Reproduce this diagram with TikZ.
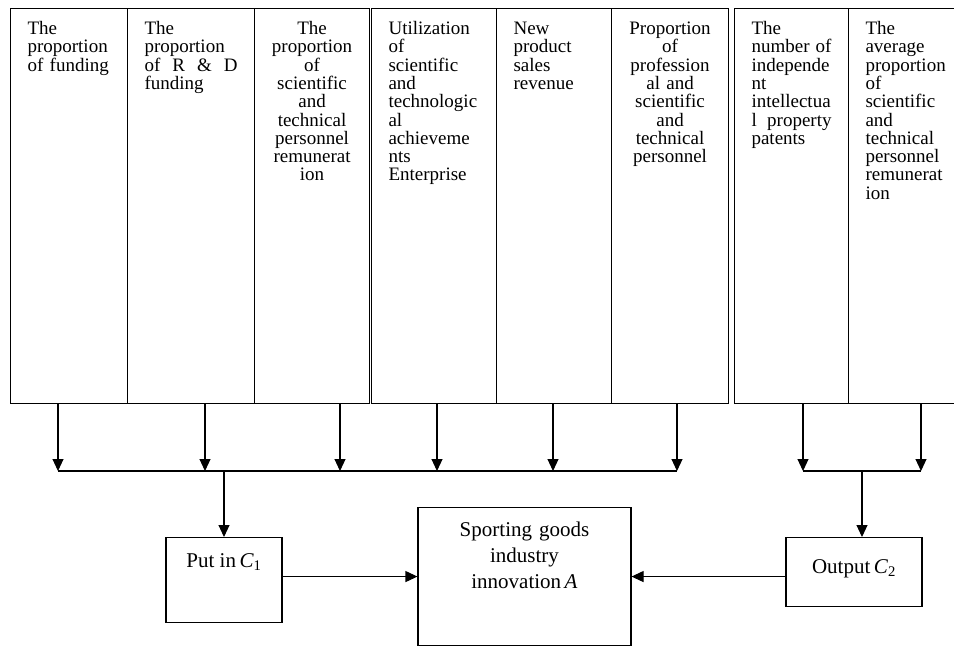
\documentclass[tikz,border=0pt]{standalone}
\usepackage{fontspec}
\setmainfont{Liberation Serif}
\usetikzlibrary{arrows.meta}
\begin{document}
\begin{tikzpicture}[x=1pt,y=-1pt,
  col/.style={draw, line width=1.1pt, anchor=north west, inner xsep=17pt, inner ysep=0pt,
    text height=26pt, text depth=369pt, font=\fontsize{19}{18.3}\selectfont},
  blk/.style={draw, line width=1.1pt, anchor=north, inner ysep=0pt, font=\fontsize{21}{26}\selectfont},
  arr/.style={line width=1.1pt, -{Triangle[length=12pt,width=11pt]}},
  bus/.style={line width=1.1pt}]
\useasboundingbox (0,0) rectangle (954,646);
\node[col, text width=83pt, align=left] (c1) at (10,8) {The\\proportion\\of~funding};
\node[col, text width=93pt, align=left] (c2) at (127,8) {The\\proportion\\of\hfill R\hfill\&\hfill D\\funding};
\node[col, text width=81pt, align=center] (c3) at (254,8) {The\\proportion\\of\\scientific\\and\\technical\\personnel\\remunerat\\ion};
\node[col, text width=91pt, align=left] (c4) at (371,8) {Utilization\\of\\scientific\\and\\technologic\\al\\achieveme\\nts\\Enterprise};
\node[col, text width=81pt, align=left] (c5) at (496,8) {New\\product\\sales\\revenue};
\node[col, text width=83pt, align=center] (c6) at (611,8) {Proportion\\of\\profession\\al~and\\scientific\\and\\technical\\personnel};
\node[col, text width=80pt, align=left] (c7) at (734,8) {The\\number\hfill of\\independe\\nt\\intellectua\\l\hfill property\\patents};
\node[col, text width=81pt, align=left] (c8) at (848,8) {The\\average\\proportion\\of\\scientific\\and\\technical\\personnel\\remunerat\\ion};
\node[blk, minimum width=116pt, text height=30pt, text depth=55pt] (put) at (224,537) {Put in\,\textit{C}\textsubscript{1}};
\node[blk, minimum width=136pt, text height=36pt, text depth=33pt] (out) at (854,537) {Output\,\textit{C}\textsubscript{2}};
\node[blk, inner xsep=0pt, text width=213pt, align=center, text height=29pt, text depth=109pt] (inno) at (524.5,507) {Sporting goods\\industry\\innovation\,\textit{A}};
\coordinate (a1) at (58,471);
\coordinate (a2) at (205,471);
\coordinate (a3) at (340,471);
\coordinate (a4) at (437,471);
\coordinate (a5) at (553,471);
\coordinate (a6) at (677,471);
\coordinate (a7) at (803,471);
\coordinate (a8) at (921,471);
\coordinate (m1) at (224,471);
\coordinate (m2) at (862,471);
\draw[arr] (a1 |- c1.south) -- (a1);
\draw[arr] (a2 |- c2.south) -- (a2);
\draw[arr] (a3 |- c3.south) -- (a3);
\draw[arr] (a4 |- c4.south) -- (a4);
\draw[arr] (a5 |- c5.south) -- (a5);
\draw[arr] (a6 |- c6.south) -- (a6);
\draw[arr] (a7 |- c7.south) -- (a7);
\draw[arr] (a8 |- c8.south) -- (a8);
\draw[bus] (a1) -- (a6);
\draw[bus] (a7) -- (a8);
\draw[arr] (m1) -- (put);
\draw[arr] (m2) -- (m2 |- out.north);
\draw[arr] (put.east |- inno) -- (inno.west);
\draw[arr] (out.west |- inno) -- (inno.east);
\end{tikzpicture}
\end{document}
